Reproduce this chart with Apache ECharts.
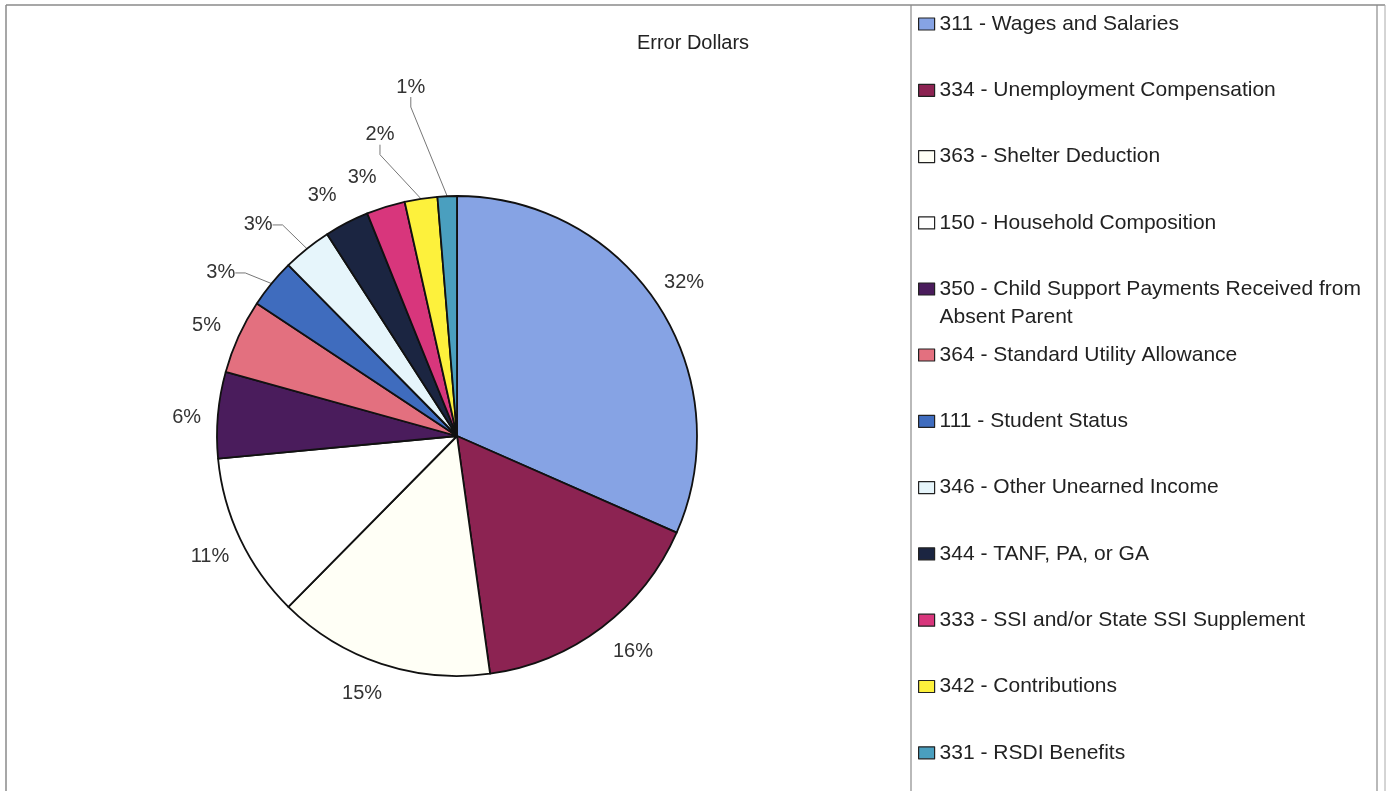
<!DOCTYPE html>
<html>
<head>
<meta charset="utf-8">
<script src="https://cdn.jsdelivr.net/npm/echarts@6/dist/echarts.min.js"></script>
<style>
html,body{margin:0;padding:0;background:#fff;}
#chart{width:1390px;height:791px;}
</style>
</head>
<body>
<div id="chart"></div>
<script>
var categories = [
  "311 - Wages and Salaries",
  "334 - Unemployment Compensation",
  "363 - Shelter Deduction",
  "150 - Household Composition",
  "350 - Child Support Payments Received from Absent Parent",
  "364 - Standard Utility Allowance",
  "111 - Student Status",
  "346 - Other Unearned Income",
  "344 - TANF, PA, or GA",
  "333 - SSI and/or State SSI Supplement",
  "342 - Contributions",
  "331 - RSDI Benefits"
];
var errorDollarsShare = [31.6, 16.2, 14.6, 11.1, 5.8, 5.0, 3.3, 3.3, 3.0, 2.6, 2.2, 1.3];
var sliceColors = ["#86a3e4", "#8c2352", "#fffff6", "#ffffff", "#4a1c5c", "#e3707f", "#3f6cbe", "#e6f5fb", "#1b2541", "#d8367c", "#fdf13c", "#4a9fbf"];
var chartTitle = "Error Dollars";

// label placement tweaks by slice index: distance beyond the rim (px) and angular shift (deg)
var labelPush = [34, 38, 34, 35, 31, 34, 47, 50, 36, 35, 71, 112];
var labelTurn = [-0.9, -2.2, 1.9, -0.7, -1.2, -0.6, -4.8, -4.6, -1.9, -2.9, -5.7, -5.2];
var leaderShown = { 6: true, 7: true, 10: true, 11: true };

var chart = echarts.init(document.getElementById('chart'));
var font = "'Liberation Sans', Arial, sans-serif";
var pieData = categories.map(function (c, i) {
  return {
    name: c,
    value: errorDollarsShare[i],
    itemStyle: { color: sliceColors[i] },
    labelLine: { show: !!leaderShown[i] }
  };
});
var frame = '#8a8a8a';
var legendText = {
  fontFamily: font, fontSize: 21, color: '#222',
  width: 434, overflow: 'break', lineHeight: 28
};
function legendBase(top, names, formatter) {
  var l = {
    orient: 'vertical',
    left: 918, top: top, padding: 0,
    itemWidth: 16, itemHeight: 12,
    itemGap: 38.3,
    icon: 'rect',
    selectedMode: false,
    itemStyle: { borderColor: '#222', borderWidth: 1.2 },
    textStyle: legendText,
    data: names
  };
  if (formatter) l.formatter = formatter;
  return l;
}
chart.setOption({
  animation: false,
  backgroundColor: '#fff',
  title: {
    text: chartTitle,
    left: 688, top: 28, textAlign: 'center',
    textStyle: { fontFamily: font, fontSize: 20, fontWeight: 'normal', color: '#222' }
  },
  legend: [
    legendBase(10, categories.slice(0, 4)),
    // wrapped entry: a leading blank line keeps the marker beside the first text line
    legendBase(247, [categories[4]], function (name) { return '\n' + name; }),
    legendBase(341, categories.slice(5))
  ],
  graphic: [
    { type: 'line', shape: { x1: 6, y1: 5, x2: 1385, y2: 5 }, style: { stroke: frame, lineWidth: 1.5 } },
    { type: 'line', shape: { x1: 6, y1: 5, x2: 6, y2: 791 }, style: { stroke: frame, lineWidth: 1.5 } },
    { type: 'line', shape: { x1: 911, y1: 5, x2: 911, y2: 791 }, style: { stroke: frame, lineWidth: 1.2 } },
    { type: 'line', shape: { x1: 1377, y1: 5, x2: 1377, y2: 791 }, style: { stroke: frame, lineWidth: 1.2 } },
    { type: 'line', shape: { x1: 1385, y1: 5, x2: 1385, y2: 791 }, style: { stroke: '#aaa', lineWidth: 1 } }
  ],
  series: [{
    type: 'pie',
    center: [457, 436],
    radius: 240,
    startAngle: 90,
    clockwise: true,
    avoidLabelOverlap: false,
    data: pieData,
    itemStyle: { borderColor: '#111', borderWidth: 1.8 },
    label: {
      position: 'outside',
      fontFamily: font, fontSize: 20, color: '#333',
      formatter: function (p) { return Math.round(p.value) + '%'; }
    },
    labelLine: { length: 14, length2: 10, lineStyle: { color: '#777', width: 1 } },
    labelLayout: function (params) {
      var i = params.dataIndex;
      var lay = chart.getModel().getSeriesByIndex(0).getData().getItemLayout(i);
      if (!lay) return {};
      var mid = (lay.startAngle + lay.endAngle) / 2 + labelTurn[i] * Math.PI / 180;
      var R = lay.r + labelPush[i];
      return {
        x: lay.cx + R * Math.cos(mid),
        y: lay.cy + R * Math.sin(mid),
        align: 'center',
        verticalAlign: 'middle'
      };
    },
    emphasis: { disabled: true }
  }]
});
</script>
</body>
</html>
